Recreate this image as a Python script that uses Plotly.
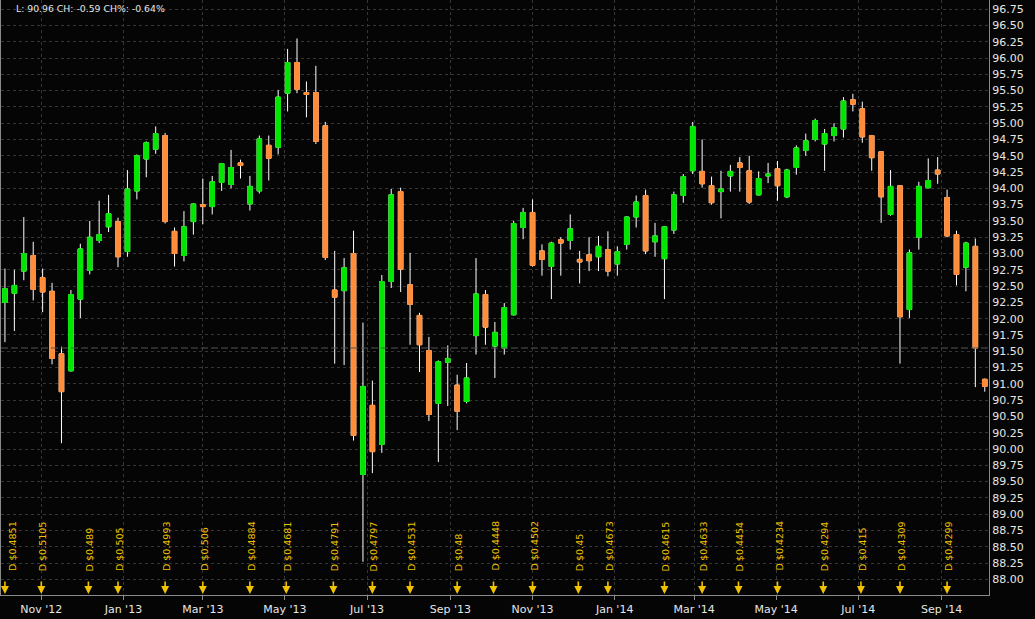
import plotly.graph_objects as go
import pandas as pd

# ---- weekly candles (week ending Friday) ----
dates = pd.date_range('2012-10-05', periods=105, freq='7D')

opens = [92.25, 92.39, 92.73, 92.97, 92.63, 92.42, 91.46, 91.20, 92.30, 92.74,
         93.20, 93.41, 93.49, 93.03, 93.96, 94.45, 94.60, 94.81, 93.34, 92.97,
         93.49, 93.75, 93.72, 94.09, 94.06, 94.39, 93.76, 93.96, 94.66, 94.63,
         95.46, 95.93, 95.47, 95.47, 94.96, 92.44, 92.43, 93.00, 89.61, 90.67,
         90.07, 92.57, 93.95, 92.52, 92.05, 91.51, 90.70, 91.33, 90.98, 90.73,
         91.74, 92.37, 91.58, 91.55, 92.06, 93.40, 93.63, 93.04, 92.80, 93.21,
         93.20, 92.91, 92.98, 92.95, 93.06, 92.84, 93.14, 93.56, 93.89, 93.18,
         92.92, 93.36, 93.89, 94.27, 94.26, 94.04, 93.95, 94.19, 94.39, 94.27,
         93.90, 94.19, 94.30, 93.87, 94.32, 94.58, 94.75, 94.68, 94.81, 94.91,
         95.36, 95.22, 94.81, 94.56, 93.60, 94.04, 92.14, 93.25, 94.01, 94.28,
         93.86, 93.29, 92.79, 93.11, 91.07]
highs = [92.77, 92.75, 93.56, 93.18, 92.77, 92.55, 91.57, 92.44, 93.15, 93.50,
         93.81, 93.90, 93.55, 94.28, 94.52, 94.72, 94.95, 94.85, 93.40, 93.65,
         93.77, 94.15, 94.19, 94.39, 94.59, 94.44, 94.19, 94.81, 94.81, 95.51,
         96.14, 96.30, 95.64, 95.88, 95.02, 93.04, 92.93, 93.35, 91.94, 91.05,
         92.67, 93.99, 94.01, 93.01, 92.09, 91.72, 91.36, 91.59, 91.14, 91.32,
         92.93, 92.44, 91.95, 92.24, 93.50, 93.70, 93.83, 93.14, 93.18, 93.25,
         93.60, 93.04, 93.25, 93.27, 93.34, 93.11, 93.57, 93.89, 93.98, 93.47,
         93.42, 93.95, 94.22, 95.02, 94.75, 94.18, 94.27, 94.36, 94.48, 94.50,
         94.26, 94.39, 94.42, 94.30, 94.66, 94.84, 95.07, 94.91, 95.00, 95.40,
         95.45, 95.33, 94.82, 94.57, 94.28, 94.05, 93.06, 94.10, 94.46, 94.48,
         93.98, 93.35, 93.18, 93.23, 91.08]
lows = [91.64, 91.81, 92.59, 92.28, 92.10, 91.30, 90.09, 91.19, 92.01, 92.68,
        93.16, 93.33, 92.79, 92.95, 93.83, 94.17, 94.53, 93.46, 92.80, 92.88,
        93.29, 93.45, 93.60, 93.96, 94.00, 94.15, 93.66, 93.92, 94.12, 94.52,
        95.18, 95.46, 95.09, 94.68, 92.90, 91.31, 91.29, 90.13, 88.27, 89.63,
        89.94, 92.47, 92.41, 91.60, 91.18, 90.43, 89.80, 90.66, 90.29, 90.70,
        91.45, 91.60, 91.09, 91.45, 92.05, 93.22, 92.80, 92.66, 92.30, 92.66,
        93.06, 92.54, 92.73, 92.73, 92.65, 92.66, 93.06, 93.40, 92.99, 92.95,
        92.30, 93.30, 93.78, 94.22, 94.01, 93.75, 93.54, 93.95, 93.95, 93.76,
        93.89, 94.08, 93.81, 93.85, 94.21, 94.50, 94.72, 94.27, 94.72, 94.78,
        95.18, 94.70, 94.27, 93.47, 93.58, 91.31, 92.01, 93.06, 94.00, 94.07,
        93.25, 92.51, 92.42, 90.95, 90.88]
closes = [92.46, 92.51, 93.00, 92.45, 92.41, 91.39, 90.88, 92.37, 93.07, 93.25,
          93.29, 93.61, 92.95, 93.99, 94.50, 94.70, 94.84, 93.49, 93.00, 93.41,
          93.76, 93.72, 94.10, 94.38, 94.32, 94.35, 94.03, 94.76, 94.46, 95.40,
          95.93, 95.52, 95.44, 94.72, 92.94, 92.33, 92.78, 90.21, 90.96, 89.96,
          92.57, 93.90, 92.76, 92.22, 91.60, 90.53, 91.34, 91.39, 90.58, 91.09,
          92.38, 91.87, 91.79, 92.17, 93.46, 93.63, 92.82, 92.91, 93.16, 93.16,
          93.38, 92.87, 92.89, 93.11, 92.73, 93.03, 93.56, 93.79, 93.04, 93.27,
          93.41, 93.90, 94.18, 94.95, 94.07, 93.78, 93.99, 94.26, 94.32, 93.79,
          94.15, 94.22, 94.04, 94.28, 94.62, 94.73, 95.04, 94.84, 94.93, 95.34,
          95.29, 94.79, 94.47, 93.87, 94.03, 92.03, 93.01, 94.03, 94.12, 94.22,
          93.27, 92.68, 93.16, 91.55, 90.96]

# ---- dividends ----
div_dates = ['2012-10-05', '2012-11-01', '2012-12-06', '2012-12-28', '2013-02-01',
             '2013-03-01', '2013-04-05', '2013-05-02', '2013-06-06', '2013-07-05',
             '2013-08-02', '2013-09-06', '2013-10-03', '2013-11-01', '2013-12-05',
             '2013-12-27', '2014-02-07', '2014-03-07', '2014-04-03', '2014-05-02',
             '2014-06-05', '2014-07-03', '2014-08-01', '2014-09-05']
div_amounts = [0.4851, 0.5105, 0.489, 0.505, 0.4993, 0.506, 0.4884, 0.4681,
               0.4791, 0.4797, 0.4531, 0.48, 0.4448, 0.4502, 0.45, 0.4673,
               0.4615, 0.4633, 0.4454, 0.4234, 0.4294, 0.415, 0.4309, 0.4299]

prev_close = 91.55
last_price = 90.96
change = -0.59
change_pct = -0.64

GREEN = '#00e600'
ORANGE = '#ff8c38'
GOLD = '#f2c200'
GRID = '#363636'
AXIS = '#8a8a8a'
TXT = '#e6e6e6'
BG = '#050505'
FONT = 'DejaVu Sans'

fig = go.Figure()
# wicks (white)
fig.add_trace(go.Candlestick(
    x=dates, open=opens, high=highs, low=lows, close=closes,
    increasing=dict(line=dict(color='#ffffff', width=1), fillcolor='#ffffff'),
    decreasing=dict(line=dict(color='#ffffff', width=1), fillcolor='#ffffff'),
    whiskerwidth=0, hoverinfo='skip', showlegend=False))
# bodies (coloured, no white outline)
body_hi = [max(o, c) for o, c in zip(opens, closes)]
body_lo = [min(o, c) for o, c in zip(opens, closes)]
fig.add_trace(go.Candlestick(
    x=dates, open=opens, high=body_hi, low=body_lo, close=closes,
    increasing=dict(line=dict(color=GREEN, width=1), fillcolor=GREEN),
    decreasing=dict(line=dict(color=ORANGE, width=1), fillcolor=ORANGE),
    whiskerwidth=0, hoverinfo='skip', showlegend=False))

annotations = []
for i, (d, v) in enumerate(zip(div_dates, div_amounts)):
    annotations.append(dict(
        x=d, y=0, xref='x', yref='paper', text=f'D ${v}', textangle=-90,
        showarrow=False, xanchor='center', yanchor='bottom', yshift=22,
        xshift=7 if i == 0 else 1,
        font=dict(family=FONT, size=9.5, color=GOLD)))
    annotations.append(dict(
        x=d, y=0, xref='x', yref='paper', text='', showarrow=True,
        arrowhead=2, arrowsize=1, arrowwidth=1.6, arrowcolor=GOLD,
        ax=0, ay=-15, standoff=1))

annotations.append(dict(
    x=0, y=1, xref='paper', yref='paper', xanchor='left', yanchor='top',
    xshift=13, yshift=-1, showarrow=False,
    text=f'L: {last_price} CH: {change} CH%: {change_pct}%',
    font=dict(family=FONT, size=9.3, color=TXT)))

fig.update_layout(
    width=1035, height=619,
    margin=dict(l=1, r=46, t=0, b=24),
    paper_bgcolor=BG, plot_bgcolor=BG,
    showlegend=False, boxgap=0.3,
    annotations=annotations,
    shapes=[dict(type='line', xref='paper', x0=0, x1=1, yref='y',
                 y0=prev_close, y1=prev_close,
                 line=dict(color='#555555', width=1, dash='7px,3px'))],
    xaxis=dict(
        type='date', range=['2012-10-02 01:30', '2014-10-06 03:30'],
        rangeslider=dict(visible=False),
        dtick='M2', tick0='2012-11-01', tickformat="%b '%y",
        showgrid=True, gridcolor=GRID, gridwidth=1, griddash='3px,3px',
        showline=True, linecolor=AXIS, linewidth=1,
        ticks='outside', ticklen=4, tickcolor=AXIS,
        tickfont=dict(family=FONT, size=11, color=TXT), zeroline=False),
    yaxis=dict(
        side='right', range=[87.76, 96.89], dtick=0.25, tick0=88,
        tickformat='.2f',
        showgrid=True, gridcolor=GRID, gridwidth=1, griddash='3px,3px',
        showline=True, mirror=True, linecolor=AXIS, linewidth=1,
        ticks='', tickfont=dict(family=FONT, size=11, color=TXT),
        zeroline=False),
)

fig.write_html('out.html',
               config=dict(displayModeBar=False, staticPlot=True),
               post_script="document.body.style.margin='0';"
                           "document.body.style.background='%s';" % BG)
